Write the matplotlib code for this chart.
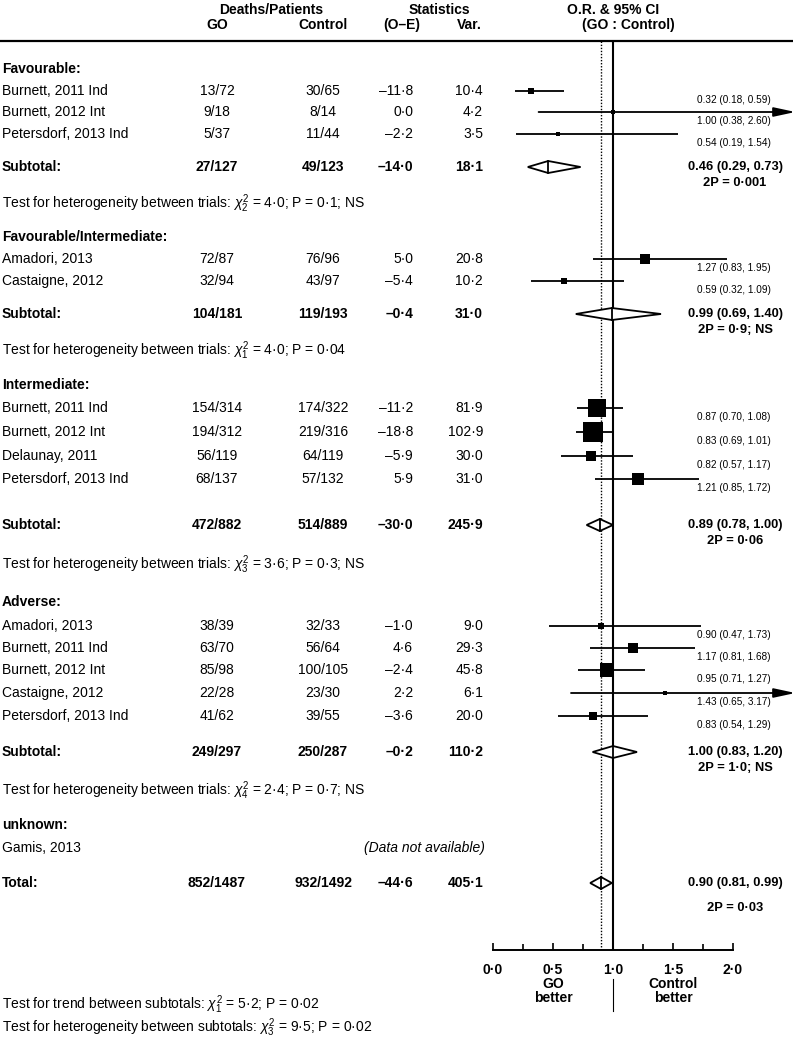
import matplotlib
matplotlib.use("Agg")
import matplotlib.pyplot as plt
from matplotlib.patches import Polygon
from matplotlib.ticker import MultipleLocator, FixedLocator
import numpy as np

plt.rcParams['font.family'] = ['Liberation Sans', 'DejaVu Sans']
plt.rcParams['mathtext.fontset'] = 'custom'
plt.rcParams['mathtext.rm'] = 'Liberation Sans'
plt.rcParams['mathtext.it'] = 'Liberation Sans:italic'
plt.rcParams['mathtext.bf'] = 'Liberation Sans:bold'

# ---------------- data ----------------
group_names = ["Favourable:", "Favourable/Intermediate:", "Intermediate:", "Adverse:"]

study_names = [
    ["Burnett, 2011 Ind", "Burnett, 2012 Int", "Petersdorf, 2013 Ind"],
    ["Amadori, 2013", "Castaigne, 2012"],
    ["Burnett, 2011 Ind", "Burnett, 2012 Int", "Delaunay, 2011", "Petersdorf, 2013 Ind"],
    ["Amadori, 2013", "Burnett, 2011 Ind", "Burnett, 2012 Int", "Castaigne, 2012", "Petersdorf, 2013 Ind"],
]
go_counts = [["13/72", "9/18", "5/37"], ["72/87", "32/94"],
             ["154/314", "194/312", "56/119", "68/137"],
             ["38/39", "63/70", "85/98", "22/28", "41/62"]]
ctrl_counts = [["30/65", "8/14", "11/44"], ["76/96", "43/97"],
               ["174/322", "219/316", "64/119", "57/132"],
               ["32/33", "56/64", "100/105", "23/30", "39/55"]]
o_minus_e = [[-11.8, 0.0, -2.2], [5.0, -5.4], [-11.2, -18.8, -5.9, 5.9],
             [-1.0, 4.6, -2.4, 2.2, -3.6]]
variance = [[10.4, 4.2, 3.5], [20.8, 10.2], [81.9, 102.9, 30.0, 31.0],
            [9.0, 29.3, 45.8, 6.1, 20.0]]
odds_ratio = [[0.32, 1.00, 0.54], [1.27, 0.59], [0.87, 0.83, 0.82, 1.21],
              [0.90, 1.17, 0.95, 1.43, 0.83]]
ci_low = [[0.18, 0.38, 0.19], [0.83, 0.32], [0.70, 0.69, 0.57, 0.85],
          [0.47, 0.81, 0.71, 0.65, 0.54]]
ci_high = [[0.59, 2.60, 1.54], [1.95, 1.09], [1.08, 1.01, 1.17, 1.72],
           [1.73, 1.68, 1.27, 3.17, 1.29]]

sub_go = ["27/127", "104/181", "472/882", "249/297"]
sub_ctrl = ["49/123", "119/193", "514/889", "250/287"]
sub_oe = [-14.0, -0.4, -30.0, -0.2]
sub_var = [18.1, 31.0, 245.9, 110.2]
sub_or = [0.46, 0.99, 0.89, 1.00]
sub_lo = [0.29, 0.69, 0.78, 0.83]
sub_hi = [0.73, 1.40, 1.00, 1.20]
sub_p = ["2P = 0·001", "2P = 0·9; NS", "2P = 0·06", "2P = 1·0; NS"]
het_df = [2, 1, 3, 4]
het_chi = ["4·0", "4·0", "3·6", "2·4"]
het_p = ["P = 0·1; NS", "P = 0·04", "P = 0·3; NS", "P = 0·7; NS"]

tot_go, tot_ctrl, tot_oe, tot_var = "852/1487", "932/1492", -44.6, 405.1
tot_or, tot_lo, tot_hi = 0.90, 0.81, 0.99
tot_p = "2P = 0·03"

x_ticks = [0.0, 0.5, 1.0, 1.5, 2.0]
x_ticklabels = ["0·0", "0·5", "1·0", "1·5", "2·0"]

# ---------------- layout (pixel rows) ----------------
head_y = [69, 237, 385, 602]
row_y = [[91, 112, 134], [259, 281], [408, 432, 456, 479], [626, 648, 670, 693, 716]]
sub_y = [167, 314, 525, 752]
het_y = [204, 351, 565, 791]

W, H = 798, 1040
fig = plt.figure(figsize=(W / 100, H / 100), dpi=100)
ax = fig.add_axes([0, 0, 1, 1])
ax.set_xlim(0, W)
ax.set_ylim(H, 0)
ax.axis('off')

X_GO, X_CT, X_OE, X_VAR, X_OR = 217, 323, 413, 483, 734
FS = 10


def num(v):
    s = f"{abs(v):.1f}".replace('.', '·')
    return ("–" + s) if v < 0 else s


def T(x, y, s, **kw):
    kw.setdefault('fontsize', FS)
    kw.setdefault('va', 'center')
    ax.text(x, y, s, **kw)

# header
T(271, 10, "Deaths/Patients", ha='center', weight='bold')
T(439, 10, "Statistics", ha='center', weight='bold')
T(613, 10, "O.R. & 95% CI", ha='center', weight='bold')
T(X_GO, 25, "GO", ha='center', weight='bold')
T(X_CT, 25, "Control", ha='center', weight='bold')
T(402, 25, "(O–E)", ha='center', weight='bold')
T(469, 25, "Var.", ha='center', weight='bold')
T(628, 25, "(GO : Control)", ha='center', weight='bold')
ax.plot([0, 793], [41, 41], color='black', lw=1.6, solid_capstyle='butt')

# forest axes
AX_TOP, AX_BOT = 41, 950
X0, X1 = 493, 733
fa = fig.add_axes([X0 / W, (H - AX_BOT) / H, (X1 - X0) / W, (AX_BOT - AX_TOP) / H])
fa.set_xlim(0, 2)
fa.set_ylim(AX_BOT, AX_TOP)
fa.patch.set_alpha(0)
for s in ['left', 'right', 'top']:
    fa.spines[s].set_visible(False)
fa.spines['bottom'].set_linewidth(1.4)
fa.yaxis.set_visible(False)
fa.xaxis.set_major_locator(FixedLocator(x_ticks))
fa.xaxis.set_minor_locator(MultipleLocator(0.25))
fa.set_xticklabels(x_ticklabels, fontsize=FS, fontweight='bold')
fa.tick_params(axis='x', which='major', direction='in', length=5, width=1.2, pad=9)
fa.tick_params(axis='x', which='minor', direction='in', length=4, width=1.2)

fa.axvline(1.0, color='black', lw=1.5, zorder=1)
fa.axvline(tot_or, color='black', lw=1.0, ls=(0, (1, 1.2)), zorder=1)

ARROW_X = 2.52


def ci_line(lo, hi, y):
    if hi > 2.0:
        fa.annotate('', xy=(ARROW_X, y), xytext=(lo, y), xycoords='data',
                    arrowprops=dict(arrowstyle='-|>,head_length=1.3,head_width=0.28',
                                    color='black', lw=1.3, shrinkA=0, shrinkB=0),
                    annotation_clip=False)
    else:
        fa.plot([lo, hi], [y, y], color='black', lw=1.3, solid_capstyle='butt',
                clip_on=False, zorder=2)


def diamond(est, lo, hi, y, h=6):
    fa.add_patch(Polygon([[lo, y], [est, y - h], [hi, y], [est, y + h]], closed=True,
                         facecolor='white', edgecolor='black', lw=1.3, zorder=3))
    fa.plot([est, est], [y - h, y + h], color='black', lw=1.3, zorder=4)


for g in range(4):
    T(2, head_y[g], group_names[g], ha='left', weight='bold')
    for i, name in enumerate(study_names[g]):
        y = row_y[g][i]
        T(2, y, name, ha='left')
        T(X_GO, y, go_counts[g][i], ha='center')
        T(X_CT, y, ctrl_counts[g][i], ha='center')
        T(X_OE, y, num(o_minus_e[g][i]), ha='right')
        T(X_VAR, y, num(variance[g][i]), ha='right')
        ci_line(ci_low[g][i], ci_high[g][i], y)
        side_px = 2 * np.sqrt(variance[g][i])
        fa.plot([odds_ratio[g][i]], [y], marker='s', color='black',
                ms=side_px * 0.72, mew=0, zorder=5, clip_on=False)
        T(X_OR, y + 9, f"{odds_ratio[g][i]:.2f} ({ci_low[g][i]:.2f}, {ci_high[g][i]:.2f})",
          ha='center', fontsize=7.2)
    ys = sub_y[g]
    T(2, ys, "Subtotal:", ha='left', weight='bold')
    T(X_GO, ys, sub_go[g], ha='center', weight='bold')
    T(X_CT, ys, sub_ctrl[g], ha='center', weight='bold')
    T(X_OE, ys, num(sub_oe[g]), ha='right', weight='bold')
    T(X_VAR, ys, num(sub_var[g]), ha='right', weight='bold')
    diamond(sub_or[g], sub_lo[g], sub_hi[g], ys)
    T(X_OR + 1, ys, f"{sub_or[g]:.2f} ({sub_lo[g]:.2f}, {sub_hi[g]:.2f})",
      ha='center', weight='bold', fontsize=9.3)
    T(X_OR + 1, ys + 16, sub_p[g], ha='center', weight='bold', fontsize=9.3)
    T(2, het_y[g], "Test for heterogeneity between trials: "
      + r"$\chi^{2}_{%d}$" % het_df[g] + f" = {het_chi[g]}; {het_p[g]}", ha='left')

# unknown
T(2, 825, "unknown:", ha='left', weight='bold')
T(2, 848, "Gamis, 2013", ha='left')
T(X_VAR + 2, 848, "(Data not available)", ha='right', style='italic')

# total
T(2, 883, "Total:", ha='left', weight='bold')
T(X_GO, 883, tot_go, ha='center', weight='bold')
T(X_CT, 883, tot_ctrl, ha='center', weight='bold')
T(X_OE, 883, num(tot_oe), ha='right', weight='bold')
T(X_VAR, 883, num(tot_var), ha='right', weight='bold')
diamond(tot_or, tot_lo, tot_hi, 883)
T(X_OR + 1, 883, f"{tot_or:.2f} ({tot_lo:.2f}, {tot_hi:.2f})", ha='center',
  weight='bold', fontsize=9.3)
T(X_OR + 1, 908, tot_p, ha='center', weight='bold', fontsize=9.3)

# axis captions
T(553, 991, "GO\nbetter", ha='center', weight='bold', linespacing=1.05)
T(673, 991, "Control\nbetter", ha='center', weight='bold', linespacing=1.05)
ax.plot([613, 613], [979, 1011], color='black', lw=0.8)

T(2, 1005, "Test for trend between subtotals: " + r"$\chi^{2}_{1}$" + " = 5·2; P = 0·02", ha='left')
T(2, 1028, "Test for heterogeneity between subtotals: " + r"$\chi^{2}_{3}$" + " = 9·5; P = 0·02", ha='left')

fig.savefig("out.png", dpi=100)
